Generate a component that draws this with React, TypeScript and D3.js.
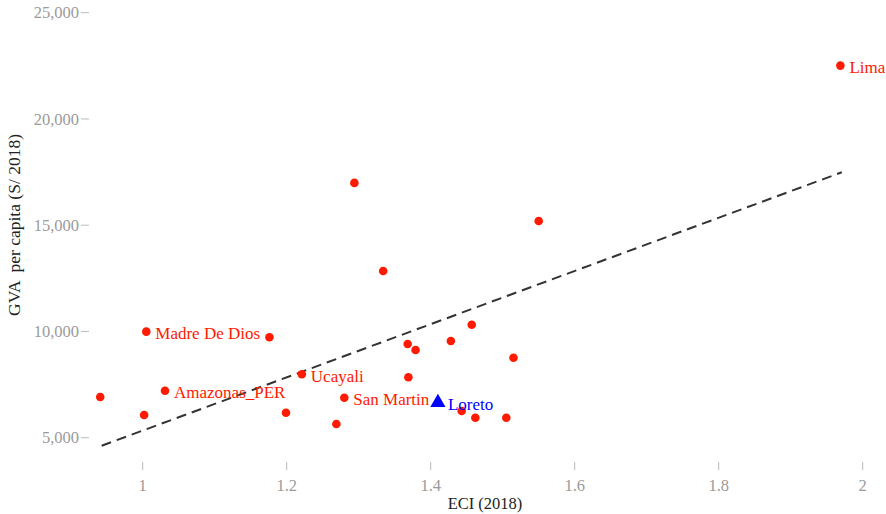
import React from "react";
import * as d3 from "d3";

// Regional economic complexity vs. gross value added per capita
const regions = [
  "", "", "Madre De Dios", "Amazonas_PER", "", "", "Ucayali", "San Martin", "",
  "", "", "", "", "", "", "", "", "", "", "", "", "Lima", "Loreto",
];
const eci = [
  0.941, 1.002, 1.005, 1.031, 1.176, 1.199, 1.221, 1.28, 1.269,
  1.368, 1.379, 1.369, 1.428, 1.457, 1.515, 1.443, 1.462, 1.505,
  1.55, 1.334, 1.294, 1.969, 1.41,
];
const gva = [
  6915, 6068, 9990, 7212, 9725, 6176, 7983, 6882, 5645,
  9410, 9127, 7842, 9551, 10318, 8765, 6256, 5941, 5941,
  15200, 12845, 16990, 22510, 6650,
];
// highlighted region drawn as a triangle
const highlight = "Loreto";

// fitted trend line (ECI, GVA) end points
const trendEci = [0.943, 1.971];
const trendGva = [4623, 17490];

const xTicks = [1, 1.2, 1.4, 1.6, 1.8, 2];
const yTicks = [5000, 10000, 15000, 20000, 25000];

const W = 886;
const H = 514;
const FONT = "'Liberation Serif', 'Times New Roman', serif";

export default function App() {
  const x = d3.scaleLinear().domain([1, 2]).range([142.7, 862.7]);
  const y = d3.scaleLinear().domain([5000, 25000]).range([437.7, 12.7]);
  const fmt = d3.format(",");

  const points = eci.map((e, i) => ({ e, g: gva[i], name: regions[i] }));
  const triangle = d3.symbol().type(d3.symbolTriangle).size(100)();
  const trend = d3
    .line<number>()
    .x((d) => x(d))
    .y((_, i) => y(trendGva[i]))(trendEci);

  return (
    <>
      <style>{"body{margin:0}"}</style>
      <svg width={W} height={H} style={{ display: "block", background: "#fff" }} fontFamily={FONT}>
        {/* y axis */}
        {yTicks.map((t) => (
          <g key={"y" + t}>
            <line x1={81} x2={89} y1={y(t)} y2={y(t)} stroke="#bbb" strokeWidth={1} />
            <text x={79} y={y(t)} dy="0.35em" textAnchor="end" fontSize={16.5} fill="#9a9a9a">
              {fmt(t)}
            </text>
          </g>
        ))}
        <text
          transform={`translate(20,225) rotate(-90)`}
          textAnchor="middle"
          fontSize={17.5}
          fill="#222"
          style={{ whiteSpace: "pre" }}
        >
          {"GVA  per capita (S/ 2018)"}
        </text>

        {/* x axis */}
        {xTicks.map((t) => (
          <g key={"x" + t}>
            <line x1={x(t)} x2={x(t)} y1={462} y2={470} stroke="#bbb" strokeWidth={1} />
            <text x={x(t)} y={491} textAnchor="middle" fontSize={16.5} fill="#9a9a9a">
              {String(t)}
            </text>
          </g>
        ))}
        <text x={485} y={509} textAnchor="middle" fontSize={16.5} fill="#222">
          ECI (2018)
        </text>

        {/* trend */}
        <path d={trend ?? ""} fill="none" stroke="#333" strokeWidth={2} strokeDasharray="10,6" />

        {/* points */}
        {points.map((p, i) =>
          p.name === highlight ? (
            <path key={i} d={triangle ?? ""} transform={`translate(${x(p.e)},${y(p.g)})`} fill="#0000ff" />
          ) : (
            <circle key={i} cx={x(p.e)} cy={y(p.g)} r={4.3} fill="#ff1a00" />
          )
        )}
        {points
          .filter((p) => p.name)
          .map((p, i) => (
            <text
              key={"l" + i}
              x={x(p.e) + (p.name === highlight ? 10 : 9)}
              y={y(p.g) + 7.5}
              fontSize={17}
              fill={p.name === highlight ? "#0000ff" : "#ff1a00"}
            >
              {p.name}
            </text>
          ))}
      </svg>
    </>
  );
}
